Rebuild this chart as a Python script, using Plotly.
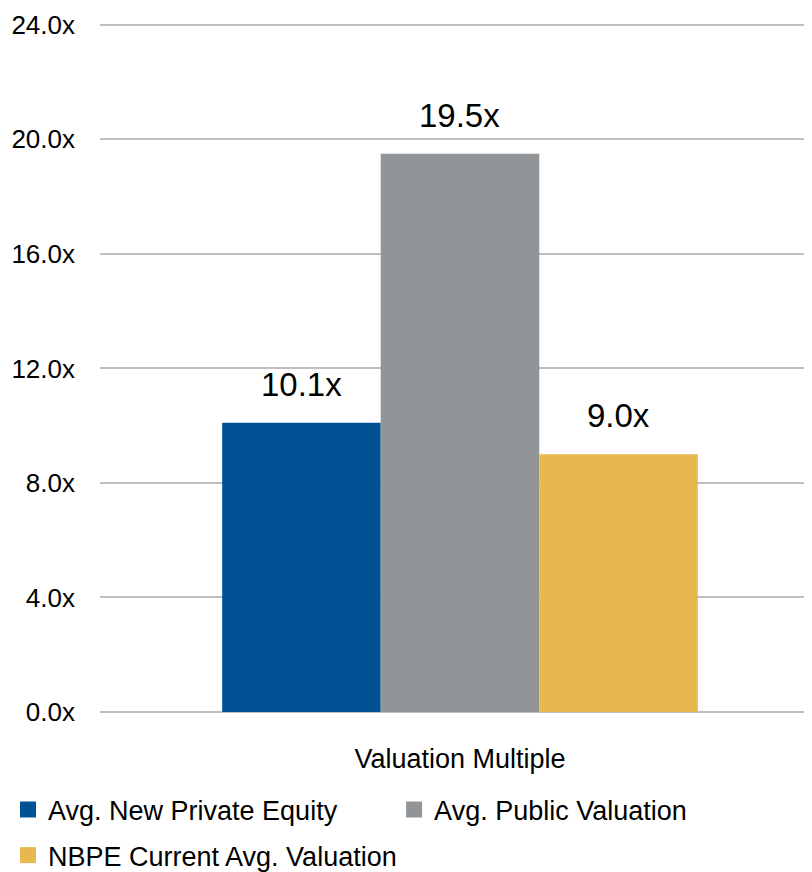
import plotly.graph_objects as go

categories = ["Valuation Multiple"]
series_names = ["Avg. New Private Equity", "Avg. Public Valuation", "NBPE Current Avg. Valuation"]
series_values = [[10.1], [19.5], [9.0]]
colors = ["#005295", "#929598", "#E6B84E"]
legend_ids = ["legend", "legend2", "legend3"]
tick_vals = [0, 4, 8, 12, 16, 20, 24]
tick_text = ["0.0x", "4.0x", "8.0x", "12.0x", "16.0x", "20.0x", "24.0x"]

FONT = "Liberation Sans Narrow, Arial Narrow, Liberation Sans, Arial, sans-serif"
BARGAP = 0.332

fig = go.Figure()
n = len(series_names)
for i, (name, vals, c) in enumerate(zip(series_names, series_values, colors)):
    fig.add_trace(go.Bar(
        x=categories, y=vals, name=name, marker=dict(color=c, line=dict(width=0)),
        showlegend=False,
    ))
    for ci, v in enumerate(vals):
        fig.add_annotation(
            x=ci + (i - (n - 1) / 2) * (1 - BARGAP) / n, y=v, xref="x", yref="y",
            text=f"{v:.1f}x", showarrow=False, yanchor="bottom", yshift=18,
            font=dict(size=33, color="#000000", family=FONT),
        )
# legend entries (square swatches)
for name, c, lg in zip(series_names, colors, legend_ids):
    fig.add_trace(go.Scatter(
        x=[None], y=[None], mode="markers", name=name, legend=lg,
        marker=dict(symbol="square", size=20, color=c),
        showlegend=True, hoverinfo="skip",
    ))

legend_common = dict(
    orientation="h", xref="container", yref="container",
    xanchor="left", yanchor="middle",
    font=dict(size=27, family=FONT, color="#000000"),
    itemwidth=30, bgcolor="rgba(0,0,0,0)", borderwidth=0,
)

fig.update_layout(
    width=812, height=872,
    margin=dict(l=92, r=8, t=14, b=168),
    paper_bgcolor="white", plot_bgcolor="white",
    barmode="group", bargap=BARGAP, bargroupgap=0,
    font=dict(family=FONT, color="#000000", size=27),
    showlegend=True,
    legend=dict(**legend_common, x=-0.007, y=0.0803),
    legend2=dict(**legend_common, x=0.4755, y=0.0803),
    legend3=dict(**legend_common, x=-0.007, y=0.028),
)
fig.update_yaxes(
    range=[0, 24.1], tickvals=tick_vals, ticktext=tick_text, automargin=False,
    showgrid=True, gridcolor="#BFBFBF", gridwidth=2,
    zeroline=True, zerolinecolor="#BFBFBF", zerolinewidth=2,
    showline=False, ticks="", ticklabelstandoff=24,
    tickfont=dict(size=26, family=FONT),
)
fig.update_xaxes(
    range=[-0.5056, 0.4944], automargin=False,
    showgrid=False, showline=False, ticks="", ticklabelstandoff=28,
    tickfont=dict(size=27, family=FONT),
)
fig.write_html("out.html")
